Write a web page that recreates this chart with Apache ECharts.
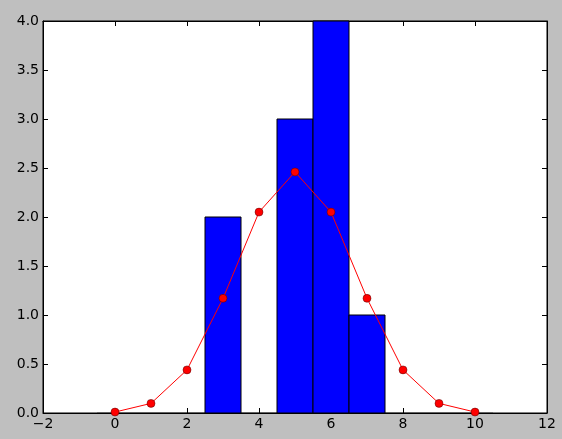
<!DOCTYPE html>
<html><head><meta charset="utf-8">
<script src="https://cdn.jsdelivr.net/npm/echarts@6/dist/echarts.min.js"></script>
<style>html,body{margin:0;padding:0;background:#bfbfbf;}#c{width:562px;height:439px;}</style>
</head><body><div id="c"></div>
<script>
const binCenters = [0,1,2,3,4,5,6,7,8,9,10];
const binCounts = [0,0,0,2,0,3,4,1,0,0,0];
const lineX = [0,1,2,3,4,5,6,7,8,9,10];
const lineY = [0.0098,0.098,0.44,1.17,2.05,2.46,2.05,1.17,0.44,0.098,0.0098];
const xTicks = [-2,0,2,4,6,8,10,12];
const yTicks = [0,0.5,1,1.5,2,2.5,3,3.5,4];

const chart = echarts.init(document.getElementById('c'));
const font = {fontFamily:'DejaVu Sans', fontSize:14, color:'#000'};
const axCommon = {
  axisLine:{show:true, onZero:false, lineStyle:{color:'#000', width:1}},
  axisTick:{show:true, inside:true, length:5, lineStyle:{color:'#000'}},
  splitLine:{show:false}
};
chart.setOption({
  backgroundColor:'#bfbfbf',
  animation:false,
  grid:{left:43, right:15, top:21, bottom:26, show:true, backgroundColor:'#fff', borderColor:'#000', borderWidth:1},
  xAxis:[
    Object.assign({type:'value', min:-2, max:12, interval:2, position:'bottom',
      axisLabel:Object.assign({margin:4, formatter:v=>String(v).replace('-','\u2212')}, font)}, axCommon),
    Object.assign({type:'value', min:-2, max:12, interval:2, position:'top', axisLabel:{show:false}}, axCommon)
  ],
  yAxis:[
    Object.assign({type:'value', min:0, max:4, interval:0.5, position:'left',
      axisLabel:Object.assign({margin:4, formatter:v=>v.toFixed(1)}, font)}, axCommon),
    Object.assign({type:'value', min:0, max:4, interval:0.5, position:'right', axisLabel:{show:false}}, axCommon)
  ],
  series:[
    {type:'custom', xAxisIndex:0, yAxisIndex:0, z:2,
      data:binCenters.map((c,i)=>[c,binCounts[i]]),
      renderItem:function(params, api){
        const c = api.value(0), h = api.value(1);
        const p0 = api.coord([c-0.5, 0]);
        const p1 = api.coord([c+0.5, h]);
        return {type:'rect', shape:{x:p0[0], y:p1[1], width:p1[0]-p0[0], height:p0[1]-p1[1]},
          style:{fill:'#0000ff', stroke:'#000', lineWidth:1, opacity: h>0?1:0.25}};
      }
    },
    {type:'line', xAxisIndex:0, yAxisIndex:0, z:3,
      data:lineX.map((x,i)=>[x,lineY[i]]),
      symbol:'circle', symbolSize:8,
      lineStyle:{color:'#ff0000', width:1},
      itemStyle:{color:'#ff0000', borderColor:'#550000', borderWidth:0.5}
    }
  ]
});
</script></body></html>
